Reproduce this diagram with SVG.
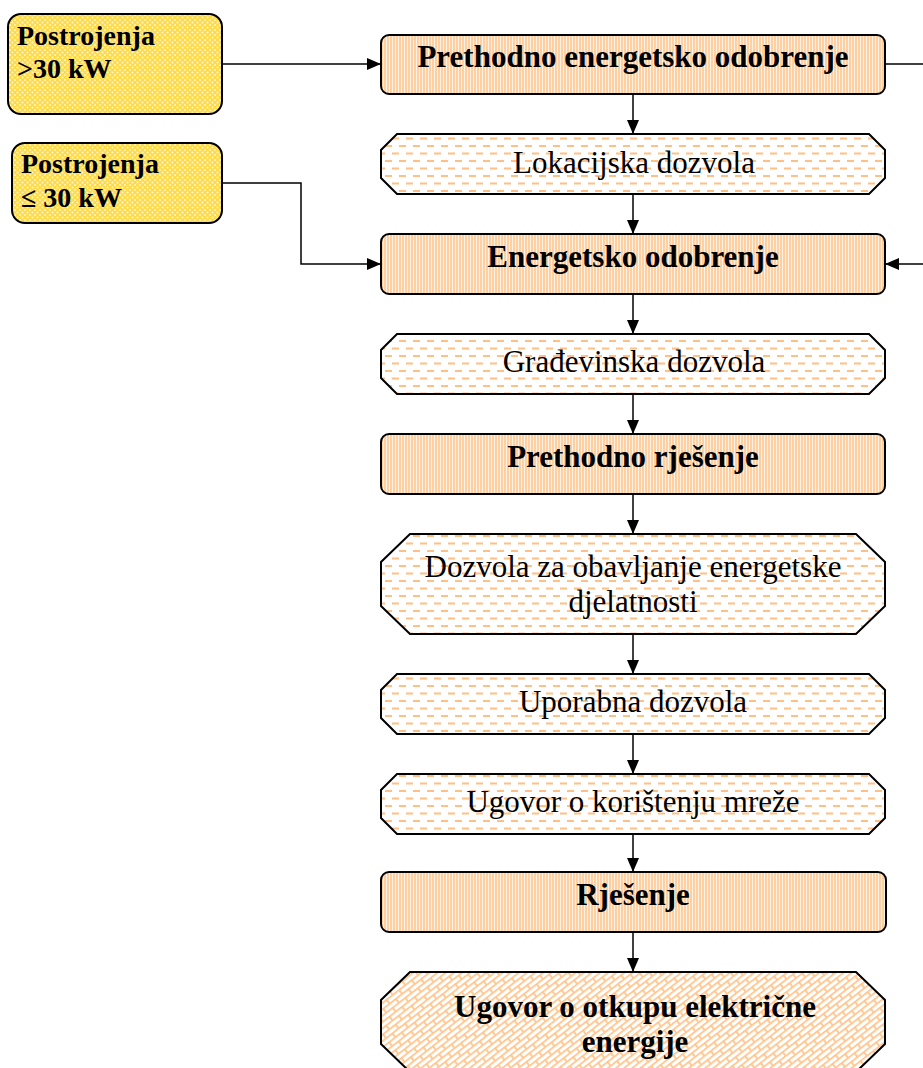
<svg xmlns="http://www.w3.org/2000/svg" width="923" height="1068" viewBox="0 0 923 1068">
<defs>
<pattern id="pStripe" width="3" height="10" patternUnits="userSpaceOnUse">
<rect width="3" height="10" fill="#fdd0a4"/>
<rect x="2" width="1" height="10" fill="#fff1e2"/>
</pattern>
<pattern id="pDash" width="14" height="15" patternUnits="userSpaceOnUse">
<rect width="14" height="15" fill="#ffffff"/>
<rect x="0" y="2.5" width="7" height="2" fill="#ffbf85"/>
<rect x="7" y="10" width="7" height="2" fill="#ffbf85"/>
</pattern>
<pattern id="pDots" width="5" height="5" patternUnits="userSpaceOnUse">
<rect width="5" height="5" fill="#ffda48"/>
<circle cx="0" cy="0" r="1.1" fill="#fff6c8"/>
<circle cx="5" cy="0" r="1.1" fill="#fff6c8"/>
<circle cx="0" cy="5" r="1.1" fill="#fff6c8"/>
<circle cx="5" cy="5" r="1.1" fill="#fff6c8"/>
<circle cx="2.5" cy="2.5" r="1.1" fill="#fff6c8"/>
</pattern>
<pattern id="pBrick" width="16" height="10" patternUnits="userSpaceOnUse" patternTransform="rotate(-38)">
<rect width="16" height="10" fill="#ffffff"/>
<path d="M0,0.9 H16 M0,5.9 H16 M1,0 V5 M9,5 V10" stroke="#ffc58d" stroke-width="1.8" fill="none"/>
</pattern>
<marker id="arr" viewBox="0 0 14 12" refX="14" refY="6" markerWidth="14" markerHeight="12" markerUnits="userSpaceOnUse" orient="auto">
<path d="M0,0 L14,6 L0,12 Z" fill="#000"/>
</marker>
<style>
.rbox{fill:url(#pStripe);stroke:#000;stroke-width:2}
.oct{fill:url(#pDash);stroke:#000;stroke-width:2}
.ybox{fill:url(#pDots);stroke:#000;stroke-width:2}
.b{font-family:"Liberation Serif","Times New Roman",serif;font-weight:bold;font-size:31px;fill:#000;text-anchor:middle}
.r{font-family:"Liberation Serif","Times New Roman",serif;font-size:31px;fill:#000;text-anchor:middle}
.y{font-family:"Liberation Serif","Times New Roman",serif;font-weight:bold;font-size:28px;fill:#000}
.c{fill:none;stroke:#000;stroke-width:1.5;marker-end:url(#arr)}
</style>
</defs>

<g id="connectors">
<path class="c" d="M222,64 H381"/>
<path class="c" d="M222,183 H301 V264 H381"/>
<path class="c" d="M885,64 H945 V264 H885"/>
<path class="c" d="M633,94 V134"/>
<path class="c" d="M633,194 V234"/>
<path class="c" d="M633,294 V334"/>
<path class="c" d="M633,394 V434"/>
<path class="c" d="M633,494 V534"/>
<path class="c" d="M633,634 V674"/>
<path class="c" d="M633,734 V774"/>
<path class="c" d="M633,834 V872"/>
<path class="c" d="M633,932 V972"/>
</g>

<g id="n_gt30">
<rect class="ybox" x="8" y="14" width="214" height="100" rx="13"/>
<text class="y" x="17" y="45">Postrojenja</text>
<text class="y" x="17" y="78">&gt;30 kW</text>
</g>
<g id="n_le30">
<rect class="ybox" x="12" y="143" width="210" height="80" rx="13"/>
<text class="y" x="21" y="173">Postrojenja</text>
<text class="y" x="21" y="207">≤ 30 kW</text>
</g>

<g id="n1">
<rect class="rbox" x="381" y="35" width="504" height="59" rx="8"/>
<text class="b" x="633" y="67">Prethodno energetsko odobrenje</text>
</g>
<g id="n2">
<polygon class="oct" points="397,134 869,134 885,150 885,178 869,194 397,194 381,178 381,150"/>
<text class="r" x="634" y="173">Lokacijska dozvola</text>
</g>
<g id="n3">
<rect class="rbox" x="381" y="234" width="504" height="60" rx="8"/>
<text class="b" x="633" y="267">Energetsko odobrenje</text>
</g>
<g id="n4">
<polygon class="oct" points="397,334 869,334 885,350 885,378 869,394 397,394 381,378 381,350"/>
<text class="r" x="634" y="372">Građevinska dozvola</text>
</g>
<g id="n5">
<rect class="rbox" x="381" y="434" width="504" height="60" rx="8"/>
<text class="b" x="633" y="467">Prethodno rješenje</text>
</g>
<g id="n6">
<polygon class="oct" points="410,534 856,534 885,562 885,606 856,634 410,634 381,606 381,562"/>
<text class="r" x="633" y="577">Dozvola za obavljanje energetske</text>
<text class="r" x="633" y="612">djelatnosti</text>
</g>
<g id="n7">
<polygon class="oct" points="397,674 869,674 885,690 885,718 869,734 397,734 381,718 381,690"/>
<text class="r" x="633" y="712">Uporabna dozvola</text>
</g>
<g id="n8">
<polygon class="oct" points="397,774 869,774 885,790 885,818 869,834 397,834 381,818 381,790"/>
<text class="r" x="633" y="812">Ugovor o korištenju mreže</text>
</g>
<g id="n9">
<rect class="rbox" x="381" y="872" width="505" height="60" rx="8"/>
<text class="b" x="633" y="905">Rješenje</text>
</g>
<g id="n10">
<polygon points="410,972 856,972 885,1000 885,1044 856,1072 410,1072 381,1044 381,1000" fill="url(#pBrick)" stroke="#000" stroke-width="2"/>
<text class="b" x="635" y="1017">Ugovor o otkupu električne</text>
<text class="b" x="635" y="1052">energije</text>
</g>
</svg>
